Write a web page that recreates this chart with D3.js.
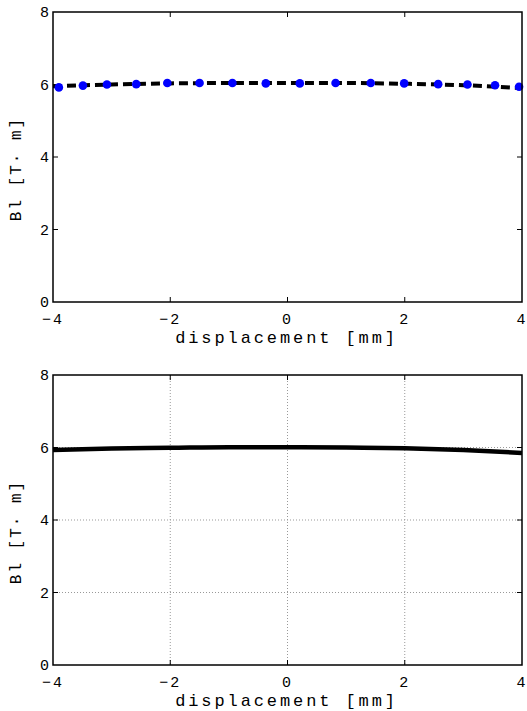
<!DOCTYPE html>
<html>
<head>
<meta charset="utf-8">
<script src="https://cdn.jsdelivr.net/npm/d3@7"></script>
<style>
  body { margin: 0; background: #fff; }
  text { font-family: "Courier New", Courier, "Liberation Mono", monospace; }
</style>
</head>
<body>
<div id="chart"></div>
<script>
"use strict";

// measured points (top panel, blue dots)
const measX = [-3.90, -3.49, -3.08, -2.58, -2.05, -1.50, -0.94, -0.37,
  0.21, 0.82, 1.42, 1.99, 2.57, 3.07, 3.54, 3.95];
const measBl = [5.92, 5.97, 6.00, 6.01, 6.04, 6.04, 6.04, 6.03,
  6.03, 6.04, 6.04, 6.03, 6.01, 6.00, 5.98, 5.94];

// fitted curve (top panel, dashed)
const fitX = [-4, -3, -2, -1, 0, 1, 2, 3, 4];
const fitBl = [5.95, 6.00, 6.03, 6.04, 6.04, 6.04, 6.02, 5.98, 5.90];

// simulated curve (bottom panel, solid)
const simX = [-4, -3, -2, -1, 0, 1, 2, 3, 4];
const simBl = [5.93, 5.97, 5.99, 6.01, 6.01, 6.00, 5.98, 5.93, 5.85];

const xTicks = [-4, -2, 0, 2, 4];
const yTicks = [0, 2, 4, 6, 8];

const W = 527, H = 711;
const svg = d3.select('#chart').append('svg')
    .attr('width', W)
    .attr('height', H);

const fmt = d => d < 0 ? '\u2212' + Math.abs(d) : String(d);

function panel(top, opts) {
  const left = 53, right = 522, bottom = top + 290;
  const x = d3.scaleLinear().domain([-4, 4]).range([left, right]);
  const y = d3.scaleLinear().domain([0, 8]).range([bottom, top]);
  const g = svg.append('g');

  if (opts.grid) {
    g.append('g').selectAll('line').data(xTicks.slice(1, -1)).join('line')
      .attr('x1', d => x(d)).attr('x2', d => x(d))
      .attr('y1', top).attr('y2', bottom)
      .attr('stroke', '#999').attr('stroke-width', 1)
      .attr('stroke-dasharray', '1,2');
    g.append('g').selectAll('line').data(yTicks.slice(1, -1)).join('line')
      .attr('y1', d => y(d)).attr('y2', d => y(d))
      .attr('x1', left).attr('x2', right)
      .attr('stroke', '#999').attr('stroke-width', 1)
      .attr('stroke-dasharray', '1,2');
  }

  // inward ticks on all sides
  const tk = 5;
  const ticks = g.append('g').attr('stroke', '#000').attr('stroke-width', 1);
  xTicks.slice(1, -1).forEach(d => {
    ticks.append('line').attr('x1', x(d)).attr('x2', x(d)).attr('y1', bottom).attr('y2', bottom - tk);
    ticks.append('line').attr('x1', x(d)).attr('x2', x(d)).attr('y1', top).attr('y2', top + tk);
  });
  yTicks.slice(1, -1).forEach(d => {
    ticks.append('line').attr('y1', y(d)).attr('y2', y(d)).attr('x1', left).attr('x2', left + tk);
    ticks.append('line').attr('y1', y(d)).attr('y2', y(d)).attr('x1', right).attr('x2', right - tk);
  });

  const line = d3.line()
    .x(d => x(d[0]))
    .y(d => y(d[1]))
    .curve(d3.curveMonotoneX);

  opts.draw(g, x, y, line);

  g.append('rect')
    .attr('x', left).attr('y', top)
    .attr('width', right - left).attr('height', bottom - top)
    .attr('fill', 'none').attr('stroke', '#000').attr('stroke-width', 1.5);

  g.append('g').selectAll('text').data(xTicks).join('text')
    .attr('x', d => x(d)).attr('y', bottom + 22)
    .attr('text-anchor', 'middle')
    .attr('font-size', 15)
    .attr('letter-spacing', 2)
    .text(fmt);

  g.append('g').selectAll('text').data(yTicks).join('text')
    .attr('x', left - 4).attr('y', d => y(d) + 5)
    .attr('text-anchor', 'end')
    .attr('font-size', 15)
    .text(fmt);

  g.append('text')
    .attr('x', (left + right) / 2 - 1).attr('y', bottom + 41)
    .attr('text-anchor', 'middle')
    .attr('font-size', 17)
    .attr('letter-spacing', 2.9)
    .text('displacement [mm]');

  g.append('text')
    .attr('transform', `translate(21,${(top + bottom) / 2 + 12}) rotate(-90)`)
    .attr('text-anchor', 'middle')
    .attr('font-size', 16)
    .attr('letter-spacing', 2)
    .text('Bl [T\u00b7 m]');
}

panel(12, {
  grid: false,
  draw(g, x, y, line) {
    g.append('path')
      .datum(fitX.map((v, i) => [v, fitBl[i]]))
      .attr('d', line)
      .attr('fill', 'none')
      .attr('stroke', '#000')
      .attr('stroke-width', 4)
      .attr('stroke-dasharray', '9,5');
    g.append('g').selectAll('circle')
      .data(measX.map((v, i) => [v, measBl[i]]))
      .join('circle')
      .attr('cx', d => x(d[0]))
      .attr('cy', d => y(d[1]))
      .attr('r', 4.3)
      .attr('fill', '#0000ff');
  }
});

panel(375, {
  grid: true,
  draw(g, x, y, line) {
    g.append('path')
      .datum(simX.map((v, i) => [v, simBl[i]]))
      .attr('d', line)
      .attr('fill', 'none')
      .attr('stroke', '#000')
      .attr('stroke-width', 4.5);
  }
});
</script>
</body>
</html>
